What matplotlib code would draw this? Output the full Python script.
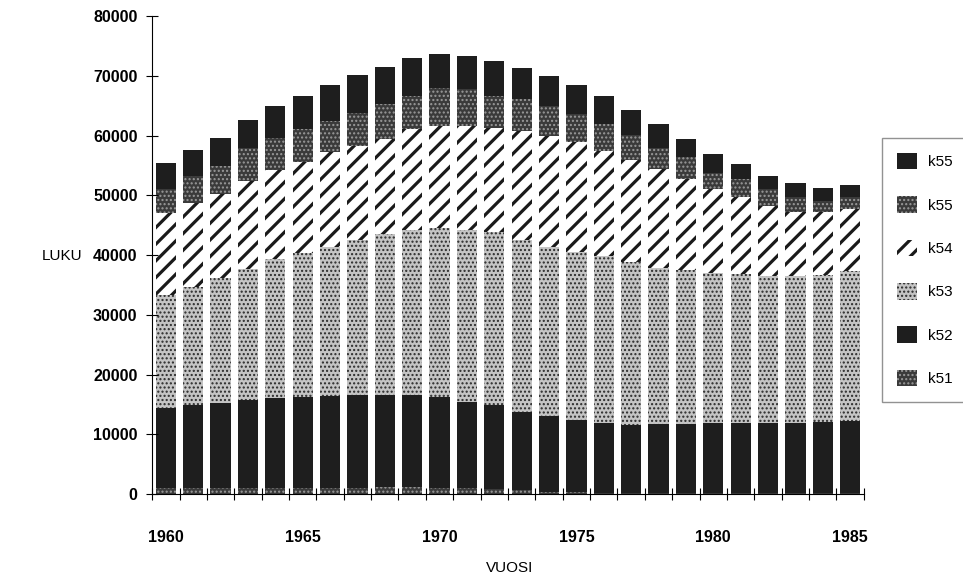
import numpy as np
import matplotlib
matplotlib.use('Agg')
import matplotlib.pyplot as plt

plt.rcParams['font.family'] = ['Liberation Sans', 'DejaVu Sans']

YEARS = list(range(1960, 1986))

# stacked segments, bottom to top
K51 = [1000, 1000, 1000, 1100, 1100, 1100, 1100, 1100, 1200, 1200, 1100, 1000, 900,
       700, 400, 300, 200, 200, 200, 200, 200, 200, 200, 200, 200, 200]
K52 = [13400, 13900, 14300, 14700, 15000, 15200, 15300, 15500, 15400, 15400, 15200,
       14500, 14000, 13100, 12600, 12100, 11700, 11400, 11500, 11500, 11700, 11700,
       11700, 11700, 11800, 12000]
K53 = [19000, 19800, 20800, 21900, 23200, 24100, 25000, 26000, 27000, 27700, 28300,
       28800, 28900, 28800, 28400, 28200, 27900, 27300, 26200, 25900, 25200, 25000,
       24700, 24700, 24700, 25100]
K54 = [13600, 14000, 14100, 14800, 14900, 15200, 15800, 15700, 15900, 16900, 17000,
       17300, 17500, 18200, 18500, 18300, 17700, 17100, 16500, 15100, 13900, 12800,
       11600, 10700, 10600, 10400]
K55_DOTS = [4000, 4600, 4800, 5500, 5500, 5600, 5300, 5500, 5800, 5400, 6400, 6200,
            5300, 5300, 5000, 4700, 4400, 4200, 3600, 3700, 2800, 3000, 2800, 2400,
            1700, 2100]
K55_TOP = [4500, 4300, 4700, 4600, 5200, 5400, 6000, 6300, 6200, 6400, 5700, 5500,
           5900, 5200, 5100, 4900, 4700, 4100, 3900, 3100, 3100, 2500, 2200, 2400,
           2300, 1900]

SERIES = [
    ('k51', K51, dict(facecolor='#3a3a3a', edgecolor='#9a9a9a', hatch='....')),
    ('k52', K52, dict(facecolor='#1e1e1e', edgecolor='#1e1e1e', hatch=None)),
    ('k53', K53, dict(facecolor='#c4c4c4', edgecolor='#2a2a2a', hatch='....')),
    ('k54', K54, dict(facecolor='white', edgecolor='#1a1a1a', hatch='//')),
    ('k55', K55_DOTS, dict(facecolor='#3a3a3a', edgecolor='#9a9a9a', hatch='....')),
    ('k55', K55_TOP, dict(facecolor='#1e1e1e', edgecolor='#1e1e1e', hatch=None)),
]
HATCH_LW = {'//': 2.3, '....': 1.0}

fig = plt.figure(figsize=(9.63, 5.80), dpi=100)
ax = fig.add_axes([0.158, 0.148, 0.739, 0.824])

x = np.arange(len(YEARS))
bottom = np.zeros(len(YEARS))
handles = []
for name, vals, style in SERIES:
    bars = ax.bar(x, vals, width=0.74, bottom=bottom, linewidth=0,
                  label=name, **style)
    if style['hatch'] and hasattr(bars[0], 'set_hatch_linewidth'):
        for p in bars:
            p.set_hatch_linewidth(HATCH_LW[style['hatch']])
    handles.append(bars)
    bottom += np.array(vals)

ax.set_xlim(-0.5, len(YEARS) - 0.5)
ax.set_ylim(0, 80000)
ax.set_yticks(np.arange(0, 80001, 10000))
ax.set_xticks(x[::5])
ax.set_xticklabels([str(y) for y in YEARS[::5]])
ax.set_xticks(np.arange(-0.5, len(YEARS), 1.0), minor=True)

ax.tick_params(axis='y', direction='inout', length=9, width=0.8,
               labelsize=11.5, pad=6)
ax.tick_params(axis='x', which='major', length=0, labelsize=11.5, pad=26)
ax.tick_params(axis='x', which='minor', direction='inout', length=9, width=0.8)
for lbl in ax.get_xticklabels() + ax.get_yticklabels():
    lbl.set_fontweight('bold')

for s in ['top', 'right']:
    ax.spines[s].set_visible(False)
ax.spines['left'].set_linewidth(0.8)
ax.spines['bottom'].set_linewidth(0.8)

fig.text(0.064, 0.558, 'LUKU', fontsize=11, ha='center', va='center')
fig.text(0.529, 0.021, 'VUOSI', fontsize=11, ha='center', va='center')

leg = fig.legend(handles[::-1], [s[0] for s in SERIES][::-1],
                 loc='upper left', bbox_to_anchor=(0.908, 0.776),
                 fontsize=11, labelspacing=1.75, handlelength=1.3,
                 handleheight=1.3, handletextpad=0.7, borderpad=1.0,
                 fancybox=False, shadow=False, edgecolor='#777777')
leg.get_frame().set_linewidth(1.0)
for h in leg.legend_handles:
    if h.get_hatch() and hasattr(h, 'set_hatch_linewidth'):
        h.set_hatch_linewidth(HATCH_LW[h.get_hatch()])

fig.savefig('out.png', dpi=100, facecolor='white')
